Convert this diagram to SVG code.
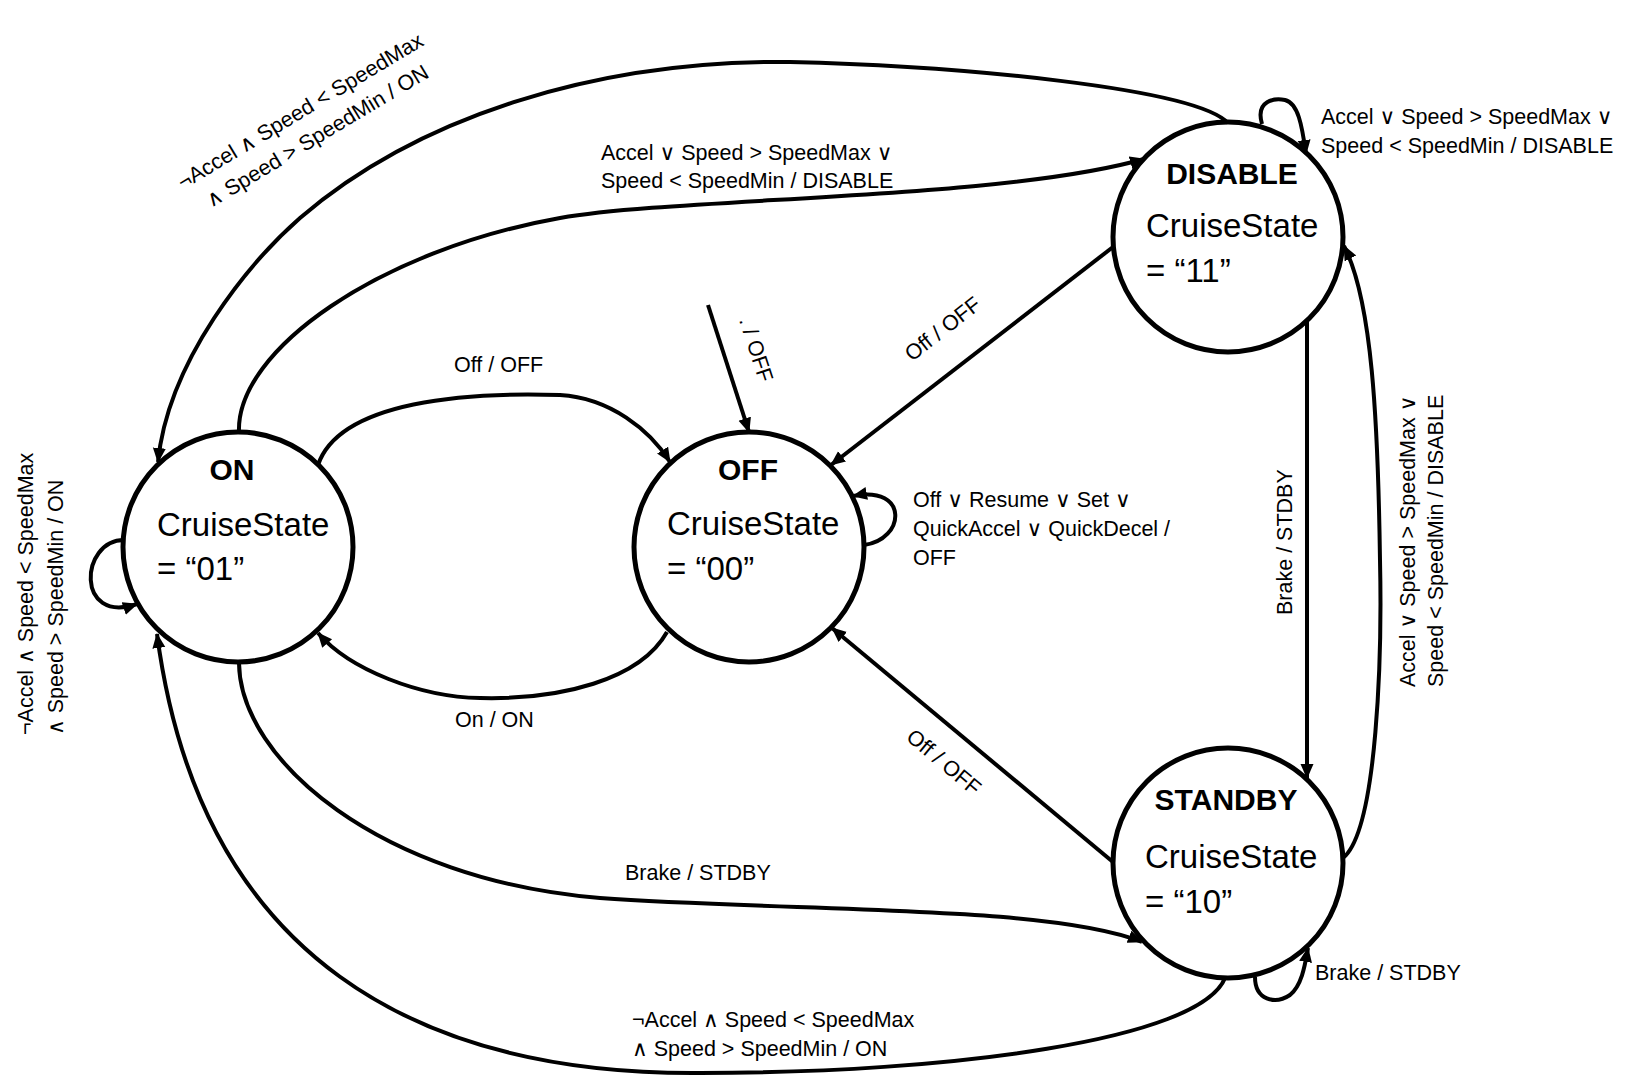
<svg xmlns="http://www.w3.org/2000/svg" width="1636" height="1077" viewBox="0 0 1636 1077">
<defs>
<marker id="arr" markerUnits="userSpaceOnUse" markerWidth="16" markerHeight="14" refX="14" refY="6.5" orient="auto">
<path d="M0,0 L15,6.5 L0,13 Z" fill="#000"/>
</marker>
<style>
text { font-family: "Liberation Sans", "DejaVu Sans", sans-serif; fill: #000; }
.st { fill: #fff; stroke: #000; stroke-width: 5; }
.title { font-weight: bold; font-size: 30px; text-anchor: middle; }
.val { font-size: 33px; }
.lbl { font-size: 21.5px; }
.e { fill: none; stroke: #000; stroke-width: 4; marker-end: url(#arr); }
</style>
</defs>
<rect width="1636" height="1077" fill="#fff"/>

<g id="node-on">
<circle class="st" cx="238" cy="547" r="115"/>
<text class="title" x="232" y="480">ON</text>
<text class="val" x="157" y="536">CruiseState</text>
<text class="val" x="157" y="580">= “01”</text>
</g>
<g id="node-off">
<circle class="st" cx="749" cy="547" r="115"/>
<text class="title" x="748" y="480">OFF</text>
<text class="val" x="667" y="535">CruiseState</text>
<text class="val" x="667" y="580">= “00”</text>
</g>
<g id="node-disable">
<circle class="st" cx="1228" cy="237" r="115"/>
<text class="title" x="1232" y="184">DISABLE</text>
<text class="val" x="1146" y="237">CruiseState</text>
<text class="val" x="1146" y="282">= “11”</text>
</g>
<g id="node-standby">
<circle class="st" cx="1228" cy="863" r="115"/>
<text class="title" x="1226" y="810">STANDBY</text>
<text class="val" x="1145" y="868">CruiseState</text>
<text class="val" x="1145" y="913">= “10”</text>
</g>

<g id="connectors">
<!-- DISABLE -> ON (top big arc) -->
<path class="e" d="M1228,123 C1195,88 960,66 790,62 C600,60 420,115 300,218 C250,262 168,360 158,462"/>
<!-- ON -> DISABLE -->
<path class="e" d="M239,432 C236,350 380,250 560,218 C680,197 1000,200 1144,159"/>
<!-- ON self loop -->
<path class="e" d="M124,540 C80,540 75,625 137,604"/>
<!-- STANDBY -> ON (bottom big arc) -->
<path class="e" d="M1225,978 C1200,1040 950,1073 700,1073 C420,1075 200,960 157,634"/>
<!-- ON -> STANDBY -->
<path class="e" d="M239,663 C240,760 380,880 600,898 C800,912 1050,905 1142,942"/>
<!-- ON -> OFF -->
<path class="e" d="M318,465 C340,400 470,392 560,395 C610,398 650,430 670,462"/>
<!-- OFF -> ON -->
<path class="e" d="M667,632 C640,680 560,700 480,698 C420,697 350,670 318,633"/>
<!-- initial -> OFF -->
<path class="e" d="M708,305 L749,432"/>
<!-- OFF self loop -->
<path class="e" d="M864,545 C905,540 910,485 853,496"/>
<!-- DISABLE -> OFF -->
<path class="e" d="M1113,247 L831,465"/>
<!-- STANDBY -> OFF -->
<path class="e" d="M1113,862 L832,628"/>
<!-- DISABLE -> STANDBY -->
<path class="e" d="M1307,320 L1307,778"/>
<!-- STANDBY -> DISABLE -->
<path class="e" d="M1343,858 C1378,830 1382,650 1380,560 C1378,420 1372,300 1344,246"/>
<!-- DISABLE self loop -->
<path class="e" d="M1262,124 C1255,100 1275,98 1285,100 C1298,103 1302,125 1306,154"/>
<!-- STANDBY self loop -->
<path class="e" d="M1255,977 C1255,1000 1275,1005 1290,995 C1302,985 1305,965 1308,948"/>

<!-- labels -->
<text class="lbl" transform="translate(183,190) rotate(-31)"><tspan x="0" y="0">¬Accel ∧ Speed &lt; SpeedMax</tspan><tspan x="15" y="30">∧ Speed &gt; SpeedMin / ON</tspan></text>
<text class="lbl" x="601" y="160">Accel ∨ Speed &gt; SpeedMax ∨</text>
<text class="lbl" x="601" y="188">Speed &lt; SpeedMin  / DISABLE</text>
<text class="lbl" x="1321" y="124">Accel ∨ Speed &gt; SpeedMax ∨</text>
<text class="lbl" x="1321" y="153">Speed &lt; SpeedMin  / DISABLE</text>
<text class="lbl" x="454" y="372">Off / OFF</text>
<text class="lbl" x="455" y="727">On / ON</text>
<text class="lbl" transform="translate(739,320) rotate(72)">. / OFF</text>
<text class="lbl" x="913" y="507">Off ∨ Resume ∨ Set ∨</text>
<text class="lbl" x="913" y="536">QuickAccel ∨ QuickDecel /</text>
<text class="lbl" x="913" y="565">OFF</text>
<text class="lbl" transform="translate(912,362) rotate(-38)">Off / OFF</text>
<text class="lbl" transform="translate(905,739) rotate(40)">Off / OFF</text>
<text class="lbl" x="625" y="880">Brake / STDBY</text>
<text class="lbl" x="632" y="1027">¬Accel ∧ Speed &lt; SpeedMax</text>
<text class="lbl" x="632" y="1056">∧ Speed &gt; SpeedMin / ON</text>
<text class="lbl" x="1315" y="980">Brake / STDBY</text>
<text class="lbl" transform="translate(1292,615) rotate(-90)">Brake / STDBY</text>
<text class="lbl" transform="translate(1415,687) rotate(-90)"><tspan x="0" y="0">Accel ∨ Speed &gt; SpeedMax ∨</tspan><tspan x="0" y="28">Speed &lt; SpeedMin  / DISABLE</tspan></text>
<text class="lbl" transform="translate(33,735) rotate(-90)"><tspan x="0" y="0">¬Accel ∧ Speed &lt; SpeedMax</tspan><tspan x="0" y="30">∧ Speed &gt; SpeedMin / ON</tspan></text>
</g>
</svg>
